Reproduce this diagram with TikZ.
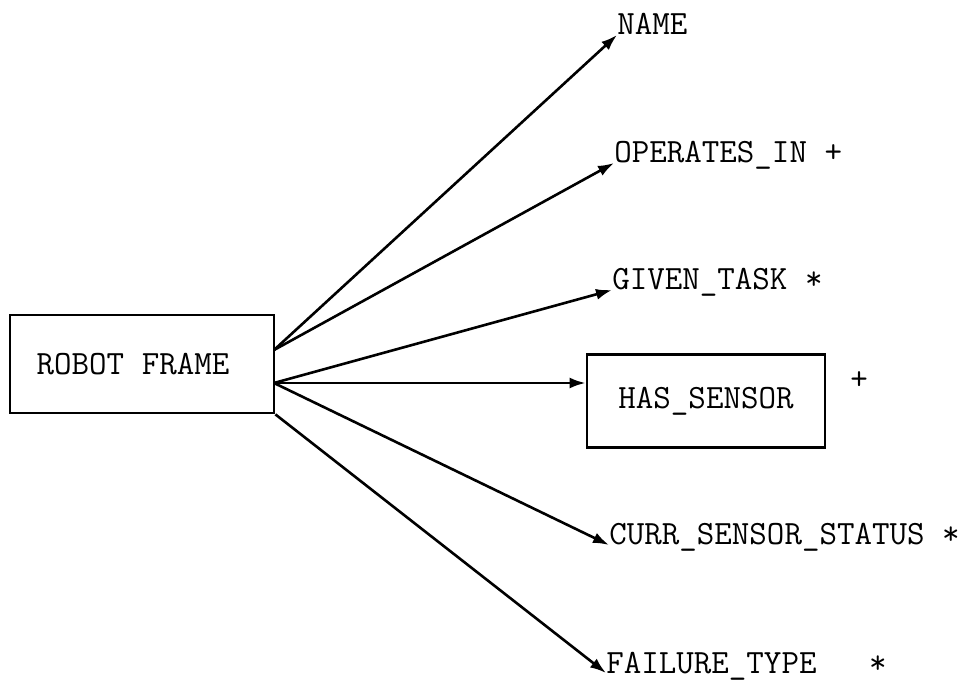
\documentclass[tikz,border=0pt]{standalone}
\usetikzlibrary{arrows.meta,positioning,calc}

\begin{document}
\begin{tikzpicture}[x=0.5pt,y=-0.5pt,>={Latex[length=8pt,width=5.5pt]},
  every node/.style={font=\ttfamily\fontsize{17}{19}\selectfont},
  frame/.style={draw,line width=1.4pt,inner sep=0pt},
  slot/.style={anchor=base west,inner sep=0pt},
  link/.style={->,line width=1.3pt}]
\useasboundingbox (0,0) rectangle (974,683);
% frame and the slot that is itself a frame
\node[frame,minimum width=132pt,minimum height=49pt] (robot) at (142,364) {ROBOT FRAME\hspace*{9pt}};
\node[frame,minimum width=119pt,minimum height=46.5pt] (sensor) at (706,401) {HAS\_SENSOR};
\node (plus) at (859,381) {+};
% slot names
\node[slot] (name) at (617,35) {NAME};
\node[slot] (operates) at (614,163) {OPERATES\_IN +};
\node[slot] (given) at (612,290) {GIVEN\_TASK *};
\node[slot] (curr) at (609,545) {CURR\_SENSOR\_STATUS *};
\node[slot] (failure) at (606,673) {FAILURE\_TYPE~~~*};
% where the links leave the frame
\coordinate (r1) at (274,350);
\coordinate (r2) at (274,383);
\draw[link] (r1) -- (name.base west);
\draw[link] (r1) -- (operates.base west);
\draw[link] (r2) -- (given.base west);
\draw[link] (r2) -- (r2 -| sensor.west);
\draw[link] (r2) -- (curr.base west);
\draw[link] (robot.south east) -- (failure.base west);
\end{tikzpicture}
\end{document}
